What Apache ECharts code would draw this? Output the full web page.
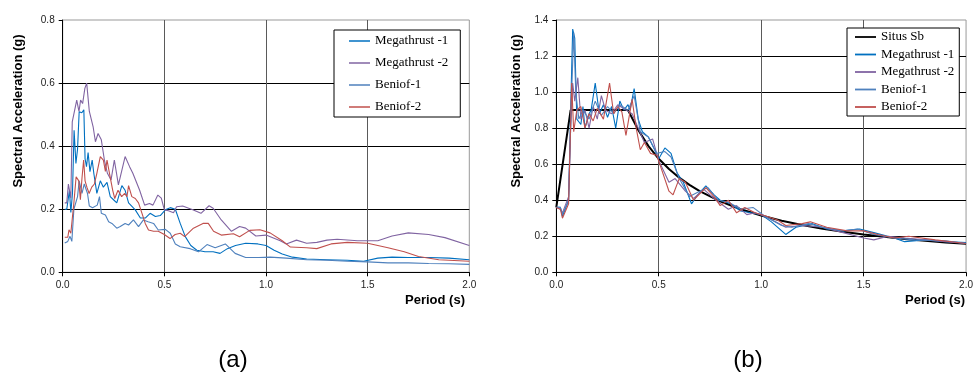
<!DOCTYPE html>
<html>
<head>
<meta charset="utf-8">
<script src="https://cdn.jsdelivr.net/npm/echarts@6/dist/echarts.min.js"></script>
<style>
html,body{margin:0;padding:0;background:#fff;}
#c{width:976px;height:374px;}
</style>
</head>
<body>
<div id="c"></div>
<script>
// ---------- Data (period s, spectral acceleration g) ----------
const xTicks = [0, 0.5, 1.0, 1.5, 2.0];
const seriesNamesA = ['Megathrust -1', 'Megathrust -2', 'Beniof-1', 'Beniof-2'];
const seriesNamesB = ['Situs Sb', 'Megathrust -1', 'Megathrust -2', 'Beniof-1', 'Beniof-2'];

// Panel (a)
const aMega1 = [[0.01,0.20],[0.02,0.20],[0.033,0.26],[0.04,0.19],[0.048,0.25],[0.056,0.45],[0.065,0.345],[0.073,0.39],[0.081,0.509],[0.094,0.506],[0.104,0.515],[0.11,0.36],[0.117,0.335],[0.125,0.38],[0.134,0.319],[0.145,0.356],[0.153,0.314],[0.168,0.25],[0.185,0.29],[0.2,0.27],[0.218,0.285],[0.234,0.24],[0.25,0.23],[0.266,0.22],[0.291,0.275],[0.307,0.26],[0.324,0.22],[0.357,0.198],[0.382,0.172],[0.406,0.172],[0.43,0.187],[0.456,0.177],[0.48,0.18],[0.505,0.198],[0.529,0.205],[0.554,0.2],[0.578,0.155],[0.603,0.113],[0.63,0.085],[0.66,0.07],[0.7,0.065],[0.74,0.065],[0.774,0.06],[0.81,0.075],[0.85,0.085],[0.9,0.092],[0.96,0.09],[1.0,0.085],[1.04,0.07],[1.08,0.058],[1.13,0.048],[1.2,0.042],[1.3,0.04],[1.4,0.038],[1.48,0.035],[1.55,0.045],[1.62,0.048],[1.7,0.047],[1.8,0.047],[1.9,0.045],[2.0,0.04]];
const aMega2 = [[0.01,0.22],[0.02,0.22],[0.028,0.28],[0.04,0.235],[0.047,0.477],[0.055,0.477],[0.069,0.546],[0.08,0.51],[0.088,0.546],[0.098,0.535],[0.109,0.583],[0.118,0.60],[0.131,0.51],[0.15,0.46],[0.161,0.414],[0.174,0.44],[0.19,0.42],[0.205,0.356],[0.22,0.314],[0.238,0.293],[0.254,0.356],[0.274,0.277],[0.307,0.367],[0.329,0.335],[0.345,0.314],[0.378,0.261],[0.403,0.213],[0.427,0.218],[0.444,0.213],[0.468,0.245],[0.485,0.235],[0.5,0.198],[0.52,0.195],[0.545,0.189],[0.56,0.208],[0.59,0.21],[0.64,0.198],[0.68,0.187],[0.72,0.211],[0.74,0.203],[0.78,0.166],[0.83,0.13],[0.87,0.145],[0.9,0.14],[0.95,0.115],[1.0,0.118],[1.07,0.1],[1.1,0.09],[1.15,0.102],[1.2,0.092],[1.25,0.095],[1.3,0.102],[1.35,0.105],[1.45,0.1],[1.55,0.1],[1.62,0.115],[1.7,0.125],[1.8,0.12],[1.88,0.11],[2.0,0.085]];
const aBen1 = [[0.01,0.093],[0.025,0.098],[0.036,0.114],[0.045,0.098],[0.055,0.2],[0.073,0.24],[0.081,0.29],[0.095,0.25],[0.106,0.28],[0.122,0.25],[0.131,0.21],[0.147,0.205],[0.17,0.213],[0.181,0.24],[0.19,0.187],[0.21,0.182],[0.226,0.16],[0.242,0.155],[0.266,0.14],[0.283,0.145],[0.307,0.155],[0.324,0.15],[0.348,0.166],[0.373,0.145],[0.397,0.166],[0.42,0.16],[0.447,0.155],[0.47,0.134],[0.505,0.136],[0.529,0.124],[0.554,0.09],[0.578,0.081],[0.627,0.075],[0.668,0.065],[0.71,0.088],[0.75,0.078],[0.8,0.09],[0.848,0.06],[0.9,0.047],[0.965,0.047],[1.02,0.048],[1.1,0.045],[1.2,0.04],[1.3,0.038],[1.4,0.035],[1.5,0.033],[1.6,0.03],[1.7,0.03],[1.8,0.028],[1.9,0.027],[2.0,0.025]];
const aBen2 = [[0.01,0.111],[0.025,0.111],[0.031,0.135],[0.04,0.124],[0.047,0.17],[0.055,0.22],[0.066,0.303],[0.079,0.29],[0.087,0.23],[0.095,0.3],[0.103,0.356],[0.11,0.29],[0.119,0.27],[0.13,0.25],[0.143,0.27],[0.156,0.28],[0.168,0.314],[0.185,0.367],[0.2,0.356],[0.21,0.32],[0.218,0.356],[0.23,0.314],[0.246,0.26],[0.256,0.234],[0.272,0.26],[0.29,0.24],[0.305,0.25],[0.316,0.24],[0.324,0.275],[0.34,0.24],[0.357,0.234],[0.373,0.22],[0.39,0.187],[0.406,0.155],[0.422,0.134],[0.447,0.13],[0.47,0.13],[0.5,0.12],[0.528,0.107],[0.553,0.12],[0.578,0.124],[0.6,0.113],[0.643,0.14],[0.69,0.155],[0.716,0.155],[0.742,0.13],[0.78,0.118],[0.84,0.122],[0.87,0.113],[0.92,0.133],[0.97,0.135],[1.02,0.125],[1.08,0.1],[1.12,0.08],[1.2,0.078],[1.25,0.075],[1.32,0.09],[1.4,0.095],[1.5,0.092],[1.6,0.078],[1.68,0.065],[1.75,0.05],[1.85,0.04],[2.0,0.035]];

// Panel (b)
const bSitus = [[0,0.36],[0.07,0.90],[0.35,0.90],[0.4,0.79],[0.45,0.70],[0.5,0.63],[0.55,0.573],[0.6,0.525],[0.65,0.485],[0.7,0.45],[0.8,0.394],[0.9,0.35],[1.0,0.315],[1.1,0.286],[1.2,0.263],[1.3,0.242],[1.4,0.225],[1.5,0.21],[1.6,0.197],[1.7,0.185],[1.8,0.175],[1.9,0.166],[2.0,0.158]];
const bMega1 = [[0,0.36],[0.02,0.36],[0.03,0.31],[0.06,0.40],[0.07,0.90],[0.08,1.35],[0.09,1.30],[0.10,0.85],[0.12,0.82],[0.13,0.92],[0.14,0.80],[0.16,0.88],[0.17,0.90],[0.19,1.05],[0.21,0.88],[0.23,0.93],[0.25,0.86],[0.27,0.92],[0.29,0.80],[0.31,0.95],[0.33,0.90],[0.35,0.93],[0.36,0.90],[0.38,1.02],[0.40,0.85],[0.42,0.78],[0.45,0.75],[0.48,0.68],[0.50,0.63],[0.53,0.69],[0.56,0.66],[0.59,0.55],[0.62,0.50],[0.66,0.38],[0.69,0.43],[0.73,0.48],[0.77,0.43],[0.80,0.40],[0.85,0.38],[0.90,0.34],[0.95,0.33],[1.0,0.32],[1.05,0.28],[1.12,0.21],[1.17,0.25],[1.25,0.27],[1.32,0.24],[1.4,0.23],[1.48,0.24],[1.55,0.22],[1.65,0.19],[1.7,0.17],[1.8,0.18],[1.9,0.17],[2.0,0.165]];
const bMega2 = [[0,0.36],[0.02,0.35],[0.03,0.33],[0.06,0.42],[0.07,0.80],[0.08,1.05],[0.09,0.95],[0.105,1.08],[0.12,0.85],[0.14,0.90],[0.16,0.80],[0.18,0.92],[0.20,0.85],[0.22,0.98],[0.24,0.90],[0.27,0.88],[0.30,0.93],[0.34,0.90],[0.37,0.88],[0.40,0.80],[0.43,0.72],[0.47,0.74],[0.50,0.62],[0.55,0.50],[0.58,0.52],[0.63,0.45],[0.67,0.41],[0.72,0.46],[0.78,0.40],[0.84,0.35],[0.88,0.37],[0.93,0.32],[0.97,0.33],[1.02,0.31],[1.07,0.28],[1.12,0.25],[1.2,0.26],[1.3,0.25],[1.4,0.22],[1.5,0.19],[1.55,0.18],[1.62,0.20],[1.7,0.19],[1.8,0.18],[1.9,0.17],[2.0,0.16]];
const bBen1 = [[0,0.36],[0.02,0.36],[0.03,0.32],[0.06,0.40],[0.075,1.00],[0.085,1.33],[0.095,1.00],[0.11,0.85],[0.13,0.90],[0.16,0.85],[0.19,0.95],[0.22,0.87],[0.25,0.92],[0.28,0.88],[0.31,0.93],[0.35,0.90],[0.38,0.98],[0.41,0.78],[0.45,0.75],[0.49,0.66],[0.53,0.67],[0.56,0.64],[0.60,0.52],[0.65,0.42],[0.70,0.45],[0.74,0.47],[0.79,0.40],[0.84,0.39],[0.90,0.35],[0.96,0.36],[1.02,0.31],[1.1,0.26],[1.15,0.25],[1.23,0.27],[1.3,0.25],[1.4,0.23],[1.47,0.24],[1.55,0.21],[1.65,0.19],[1.75,0.18],[1.9,0.175],[2.0,0.16]];
const bBen2 = [[0,0.36],[0.02,0.35],[0.03,0.30],[0.06,0.38],[0.075,1.05],[0.085,0.78],[0.10,0.90],[0.12,0.92],[0.14,0.80],[0.16,0.88],[0.18,0.84],[0.20,0.91],[0.23,0.85],[0.26,1.05],[0.28,0.88],[0.30,0.92],[0.32,0.89],[0.34,0.76],[0.37,0.96],[0.39,0.80],[0.41,0.68],[0.43,0.72],[0.46,0.66],[0.49,0.65],[0.52,0.55],[0.55,0.45],[0.57,0.43],[0.60,0.52],[0.63,0.50],[0.67,0.40],[0.73,0.47],[0.77,0.42],[0.80,0.37],[0.84,0.40],[0.88,0.33],[0.92,0.36],[0.97,0.33],[1.03,0.31],[1.08,0.29],[1.12,0.26],[1.2,0.27],[1.24,0.28],[1.32,0.25],[1.42,0.23],[1.5,0.23],[1.57,0.21],[1.65,0.19],[1.72,0.20],[1.85,0.18],[2.0,0.16]];

const colors = {
  'Situs Sb': '#000000',
  'Megathrust -1': '#0070C0',
  'Megathrust -2': '#8064A2',
  'Beniof-1': '#4F81BD',
  'Beniof-2': '#C0504D'
};

// ---------- Chart ----------
const chart = echarts.init(document.getElementById('c'), null, {renderer: 'canvas'});
const tickFont = {fontFamily: 'Liberation Sans, Arial, sans-serif', fontSize: 10, color: '#222'};

function xAx(gi) {
  return {
    type: 'value', gridIndex: gi, min: 0, max: 2, interval: 0.5,
    axisLine: {show: true, onZero: false, lineStyle: {color: '#000', width: 1}},
    axisTick: {show: true, length: 4, lineStyle: {color: '#000'}},
    axisLabel: Object.assign({margin: 8, formatter: v => v.toFixed(1)}, tickFont),
    splitLine: {show: true, showMinLine: false, showMaxLine: false, lineStyle: {color: '#5a5a5a', width: 1}}
  };
}
function yAx(gi, max) {
  return {
    type: 'value', gridIndex: gi, min: 0, max: max, interval: 0.2,
    axisLine: {show: true, onZero: false, lineStyle: {color: '#000', width: 1}},
    axisTick: {show: true, length: 4, lineStyle: {color: '#000'}},
    axisLabel: Object.assign({margin: 8, formatter: v => v.toFixed(1)}, tickFont),
    splitLine: {show: true, showMinLine: false, showMaxLine: false, lineStyle: {color: '#000', width: 1}}
  };
}
function ser(name, data, gi, width) {
  return {
    name: name, type: 'line', xAxisIndex: gi, yAxisIndex: gi, data: data,
    symbol: 'none', smooth: false, silent: true,
    lineStyle: {color: colors[name], width: width || 1.1},
    itemStyle: {color: colors[name]}
  };
}

const legendText = {fontFamily: 'Liberation Serif, Times New Roman, serif', fontSize: 13, color: '#000', lineHeight: 14};

const option = {
  animation: false,
  backgroundColor: '#fff',
  grid: [
    {left: 62.7, right: 506.7, top: 20, bottom: 101.7, show: true, borderColor: '#999', borderWidth: 1},
    {left: 556.3, right: 7, top: 20, bottom: 101.7, show: true, borderColor: '#999', borderWidth: 1}
  ],
  xAxis: [xAx(0), xAx(1)],
  yAxis: [yAx(0, 0.8), yAx(1, 1.4)],
  legend: [
    {
      data: seriesNamesA.map(n => ({name: n, icon: 'rect'})),
      orient: 'vertical', left: 334, top: 30,
      itemWidth: 21, itemHeight: 1.5, itemGap: 8,
      padding: [4, 12, 3, 15],
      borderColor: '#000', borderWidth: 1, backgroundColor: '#fff',
      textStyle: legendText, selectedMode: false
    },
    {
      data: seriesNamesB.map(n => ({name: n, icon: 'rect'})),
      orient: 'vertical', left: 847, top: 28,
      itemWidth: 21, itemHeight: 1.8, itemGap: 3.5,
      padding: [2, 5, 2, 8],
      borderColor: '#000', borderWidth: 1, backgroundColor: '#fff',
      textStyle: legendText, selectedMode: false
    }
  ],
  series: [
    ser('Megathrust -1', aMega1, 0),
    ser('Megathrust -2', aMega2, 0),
    ser('Beniof-1', aBen1, 0),
    ser('Beniof-2', aBen2, 0),
    ser('Situs Sb', bSitus, 1, 2),
    ser('Megathrust -1', bMega1, 1),
    ser('Megathrust -2', bMega2, 1),
    ser('Beniof-1', bBen1, 1),
    ser('Beniof-2', bBen2, 1)
  ],
  graphic: [
    {type: 'text', x: 18, y: 111, rotation: Math.PI / 2, style: {text: 'Spectral Acceleration (g)', font: 'bold 13px Liberation Sans, Arial, sans-serif', fill: '#000', textAlign: 'center', textVerticalAlign: 'middle'}},
    {type: 'text', x: 516, y: 111, rotation: Math.PI / 2, style: {text: 'Spectral Acceleration (g)', font: 'bold 13px Liberation Sans, Arial, sans-serif', fill: '#000', textAlign: 'center', textVerticalAlign: 'middle'}},
    {type: 'text', x: 465, y: 300, style: {text: 'Period (s)', font: 'bold 13px Liberation Sans, Arial, sans-serif', fill: '#000', textAlign: 'right', textVerticalAlign: 'middle'}},
    {type: 'text', x: 965, y: 300, style: {text: 'Period (s)', font: 'bold 13px Liberation Sans, Arial, sans-serif', fill: '#000', textAlign: 'right', textVerticalAlign: 'middle'}},
    {type: 'text', x: 233, y: 360, style: {text: '(a)', font: '24px Liberation Sans, Arial, sans-serif', fill: '#000', textAlign: 'center', textVerticalAlign: 'middle'}},
    {type: 'text', x: 748, y: 360, style: {text: '(b)', font: '24px Liberation Sans, Arial, sans-serif', fill: '#000', textAlign: 'center', textVerticalAlign: 'middle'}}
  ]
};
chart.setOption(option);
</script>
</body>
</html>
